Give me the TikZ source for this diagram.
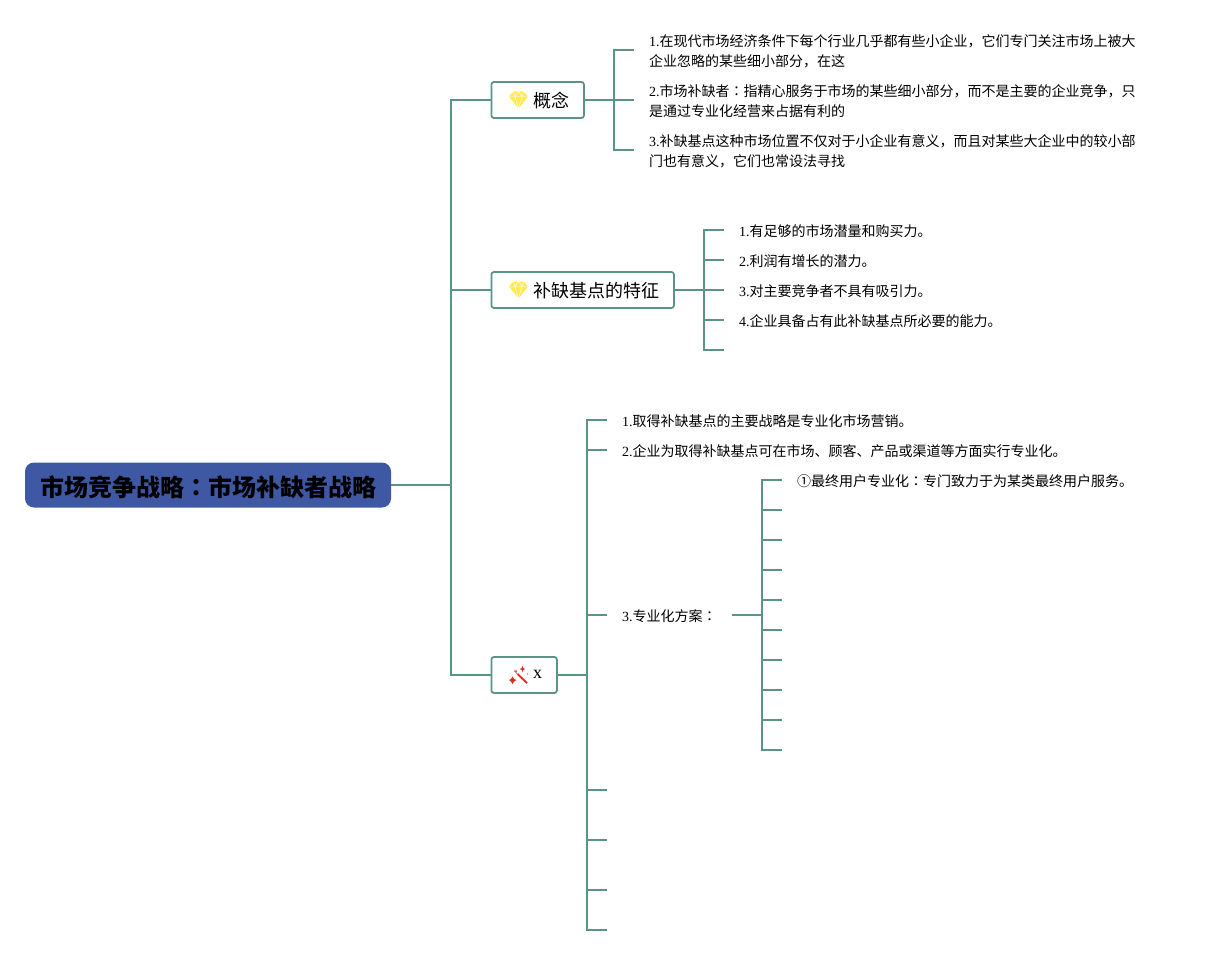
\documentclass[tikz,border=0pt]{standalone}
\usepackage{fontspec}
\setmainfont{Liberation Serif}
\newfontfamily\cjk{Noto Sans CJK SC}
\newfontfamily\cjktc{Noto Sans CJK TC}
\newcommand{\cc}{{\cjktc ：}}
\newcommand{\nm}[1]{{\fontspec{Liberation Serif}#1}}
\definecolor{linecol}{HTML}{5B9384}
\definecolor{rootcol}{HTML}{3F58A4}
\definecolor{gemcol}{HTML}{FFEB4D}
\definecolor{wandcol}{HTML}{E0281E}
\tikzset{
  x=1pt,y=-1pt,
  conn/.style={draw=linecol,line width=1.8pt,line join=miter},
  rootbox/.style={draw=none,fill=rootcol,rounded corners=9pt,minimum width=366pt,minimum height=45pt,inner sep=0pt},
  roottext/.style={inner sep=0pt,font=\fontsize{24}{30}\selectfont\cjk\bfseries},
  topicbox/.style={draw=linecol,line width=1.8pt,fill=white,rounded corners=2.5pt,minimum height=36pt,inner sep=0pt,anchor=west},
  topictext/.style={anchor=west,inner sep=0pt,font=\fontsize{18}{24}\selectfont\cjk},
  leaf/.style={anchor=west,inner xsep=15pt,inner ysep=0pt,align=left,font=\fontsize{14}{20}\selectfont\cjk},
  gem/.pic={
    \fill[gemcol] (-9.5,-3.5) -- (-5,-8.5) -- (5,-8.5) -- (9.5,-3.5) -- (0,8.5) -- cycle;
    \draw[white,line width=.45pt] (-9.5,-3.5) -- (9.5,-3.5) (-5,-8.5) -- (-3.5,-3.5) -- (0,8.5) -- (3.5,-3.5) -- (5,-8.5) (-3.5,-3.5) -- (0,-8.5) -- (3.5,-3.5);
  },
  wand/.pic={
    \draw[wandcol,line width=1.8pt] (-1.5,-1) -- (8,8);
    \draw[wandcol!70,line width=.9pt] (-5,-4.5) -- (-1.5,-1);
    \fill[wandcol] (-6.5,1.5) -- (-5,4) -- (-2.5,5) -- (-5,6.5) -- (-6.5,9) -- (-8,6.5) -- (-10,5) -- (-8,4) -- cycle;
    \fill[wandcol] (3.5,-9) -- (4.3,-7) -- (6,-6) -- (4.3,-5) -- (3.5,-3) -- (2.7,-5) -- (1,-6) -- (2.7,-7) -- cycle;
    \fill[wandcol] (-3,-4) circle (1);
    \fill[wandcol] (8.5,-1) circle (.7);
  },
}
\begin{document}
\begin{tikzpicture}
\useasboundingbox (0,0) rectangle (1209,955);
% root and main spine
\node[rootbox] (root) at (208,485) {};
\node[roottext] (roottxt) at (208,487) {市场竞争战略\cc 市场补缺者战略};
\coordinate (rootbus) at (451,485);
% topics
\node[topicbox,minimum width=92.5pt] (t1) at (490.5,100) {};
\node[topicbox,minimum width=182.5pt] (t2) at (490.5,290) {};
\node[topicbox,minimum width=65.5pt] (t3) at (490.5,675) {};
\node[topictext] (t1txt) at (533,101) {概念};
\node[topictext] (t2txt) at (533,291) {补缺基点的特征};
\node[topictext] (t3txt) at (533,674) {\nm{\fontsize{18}{24}\selectfont x}};
\pic at (518.5,100) {gem};
\pic at (518.5,290) {gem};
\pic at (519,675) {wand};
% spine
\draw[conn] (root.east) -- (rootbus);
\draw[conn] (rootbus) |- (t1.west);
\draw[conn] (rootbus) |- (t2.west);
\draw[conn] (rootbus) |- (t3.west);
% topic 1
\coordinate (b1) at (614,100);
\node[leaf] (a1) at (634,51) {\nm{1.}在现代市场经济条件下每个行业几乎都有些小企业，它们专门关注市场上被大\\企业忽略的某些细小部分，在这};
\node[leaf] (a2) at (634,101) {\nm{2.}市场补缺者\cc 指精心服务于市场的某些细小部分，而不是主要的企业竞争，只\\是通过专业化经营来占据有利的};
\node[leaf] (a3) at (634,151) {\nm{3.}补缺基点这种市场位置不仅对于小企业有意义，而且对某些大企业中的较小部\\门也有意义，它们也常设法寻找};
\draw[conn] (t1.east) -- (b1);
\foreach \n in {a1,a2,a3} \draw[conn] (b1) |- ([yshift=1pt]\n.west);
% topic 2
\coordinate (b2) at (704,290);
\node[leaf] (c1) at (724,231) {\nm{1.}有足够的市场潜量和购买力。};
\node[leaf] (c2) at (724,261) {\nm{2.}利润有增长的潜力。};
\node[leaf] (c3) at (724,291) {\nm{3.}对主要竞争者不具有吸引力。};
\node[leaf] (c4) at (724,321) {\nm{4.}企业具备占有此补缺基点所必要的能力。};
\coordinate (c5) at (724,350);
\draw[conn] (t2.east) -- (b2);
\foreach \n in {c1,c2,c3,c4} \draw[conn] (b2) |- ([yshift=1pt]\n.west);
\draw[conn] (b2) |- (c5);
% topic 3
\coordinate (b3) at (587,675);
\node[leaf] (d1) at (607,421) {\nm{1.}取得补缺基点的主要战略是专业化市场营销。};
\node[leaf] (d2) at (607,451) {\nm{2.}企业为取得补缺基点可在市场、顾客、产品或渠道等方面实行专业化。};
\node[leaf] (d3) at (607,616) {\nm{3.}专业化方案\cc};
\coordinate (d4) at (607,790);
\coordinate (d5) at (607,840);
\coordinate (d6) at (607,890);
\coordinate (d7) at (607,930);
\draw[conn] (t3.east) -- (b3);
\foreach \n in {d1,d2,d3} \draw[conn] (b3) |- ([yshift=1pt]\n.west);
\foreach \n in {d4,d5,d6,d7} \draw[conn] (b3) |- (\n);
% level 3
\coordinate (b4) at (762,615);
\coordinate (d3r) at (732,615);
\draw[conn] (d3r) -- (b4);
\node[leaf] (e1) at (782,481) {①最终用户专业化\cc 专门致力于为某类最终用户服务。};
\draw[conn] (b4) |- ([yshift=1pt]e1.west);
\foreach \y/\n in {510/e2,540/e3,570/e4,600/e5,630/e6,660/e7,690/e8,720/e9,750/e10}{
  \coordinate (\n) at (782,\y);
  \draw[conn] (b4) |- (\n);
}
\end{tikzpicture}
\end{document}
